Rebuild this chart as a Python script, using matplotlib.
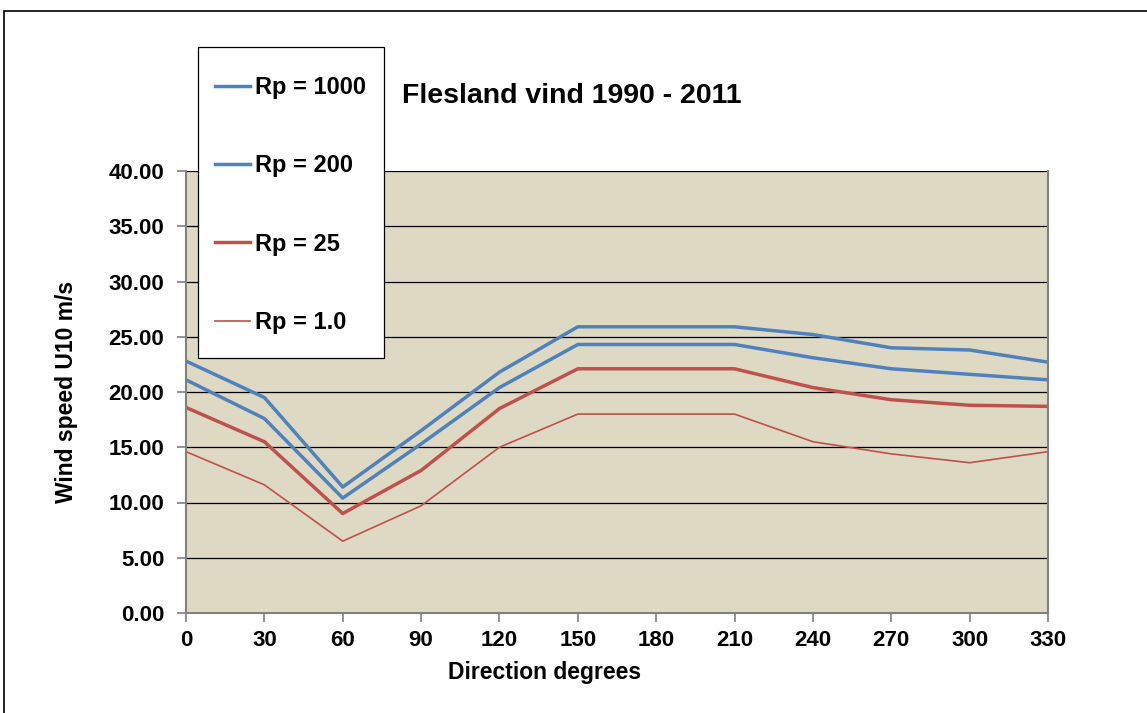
import matplotlib.pyplot as plt
from matplotlib.patches import Rectangle

plt.rcParams['font.family'] = ['Liberation Sans', 'DejaVu Sans']

direction = [0, 30, 60, 90, 120, 150, 180, 210, 240, 270, 300, 330]
rp1000 = [22.8, 19.5, 11.4, 16.5, 21.8, 25.9, 25.9, 25.9, 25.2, 24.0, 23.8, 22.7]
rp200 = [21.1, 17.6, 10.4, 15.3, 20.4, 24.3, 24.3, 24.3, 23.1, 22.1, 21.6, 21.1]
rp25 = [18.6, 15.5, 9.0, 12.9, 18.5, 22.1, 22.1, 22.1, 20.4, 19.3, 18.8, 18.7]
rp1 = [14.6, 11.6, 6.5, 9.7, 15.0, 18.0, 18.0, 18.0, 15.5, 14.4, 13.6, 14.6]

blue = '#4F81BD'
red = '#C0504D'
W, H = 1147, 713

fig = plt.figure(figsize=(W/100, H/100), dpi=100)
ax = fig.add_axes([186/W, 1-613/H, (1048-186)/W, (613-171)/H])
ax.set_facecolor('#DDD9C3')

# outer frame
fig.patches.append(Rectangle((4/W, -0.05), 1.1, 1-11/H+0.05, transform=fig.transFigure,
                             fill=False, edgecolor='black', linewidth=1.2))

ax.plot(direction, rp1000, color=blue, lw=2.5, label='Rp = 1000')
ax.plot(direction, rp200, color=blue, lw=2.5, label='Rp = 200')
ax.plot(direction, rp25, color=red, lw=2.5, label='Rp = 25')
ax.plot(direction, rp1, color=red, lw=1.2, label='Rp = 1.0')

ax.set_xlim(0, 330)
ax.set_ylim(0, 40)
ax.set_xticks(direction)
ax.set_yticks(range(0, 41, 5))
ax.set_yticklabels([f'{v:.2f}' for v in range(0, 41, 5)])
ax.yaxis.grid(True, color='black', linewidth=0.9)
ax.set_axisbelow(True)
for s in ax.spines.values():
    s.set_color('#808080')
    s.set_linewidth(1.5)
ax.spines['top'].set_visible(False)
ax.tick_params(labelsize=16, length=6.5, color='#808080', width=1.2)
ax.tick_params(axis='y', pad=9)
ax.tick_params(axis='x', pad=6)
for t in ax.get_xticklabels() + ax.get_yticklabels():
    t.set_fontweight('bold')

ax.set_xlabel('Direction degrees', fontsize=16.5, fontweight='bold', labelpad=7,
              x=(545-186)/(1048-186))
ax.set_ylabel('Wind speed U10 m/s', fontsize=16.5, fontweight='bold', labelpad=22)

fig.text(402/W, 1-96/H, 'Flesland vind 1990 - 2011', fontsize=20.5, fontweight='bold',
         va='center', ha='left')

# legend box
ax.add_patch(Rectangle((198/W, 1-358/H), (384-198)/W, (358-47)/H, transform=fig.transFigure,
                       facecolor='white', edgecolor='black', linewidth=0.9,
                       clip_on=False, zorder=4.5))
leg = ax.legend(loc='center left', bbox_to_anchor=(215/W, 1-205/H),
                bbox_transform=fig.transFigure, borderaxespad=0, frameon=False,
                prop={'size': 17, 'weight': 'bold'}, labelspacing=2.35,
                handlelength=1.5, handletextpad=0.2, borderpad=0)
leg.set_zorder(5)

fig.savefig('out.png', dpi=100)
